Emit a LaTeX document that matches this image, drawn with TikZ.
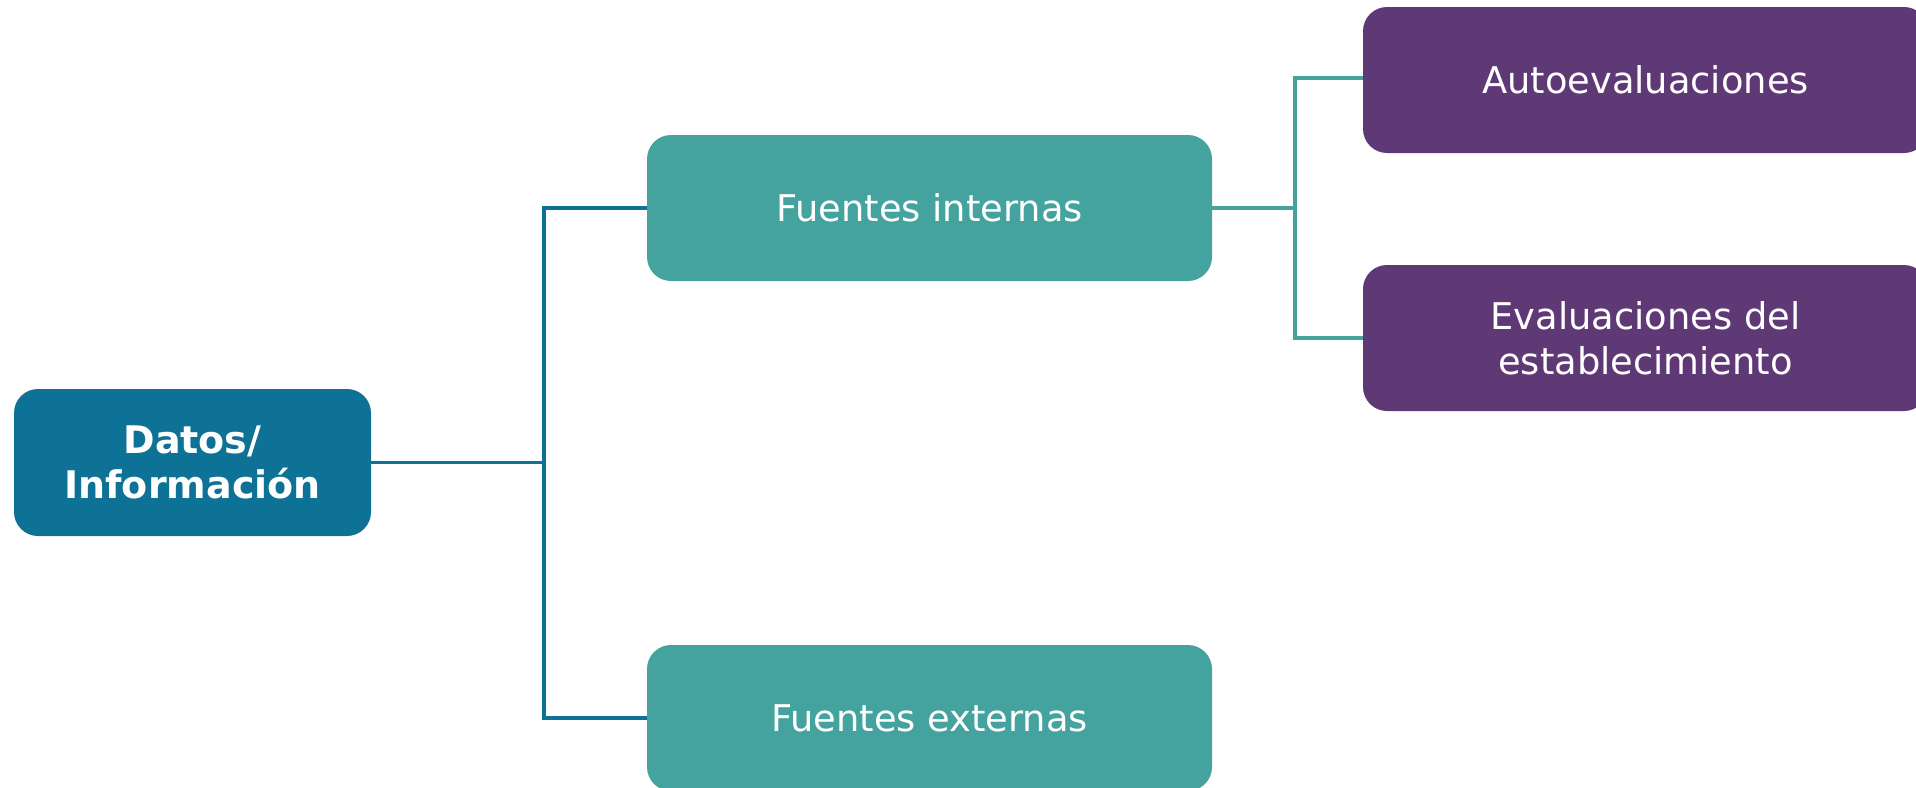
\documentclass[tikz,border=0pt]{standalone}
\usepackage{fontspec}
\setmainfont{DejaVu Sans}
\definecolor{datosblue}{RGB}{14,114,150}
\definecolor{tealc}{RGB}{68,163,158}
\definecolor{purplec}{RGB}{95,57,118}
\begin{document}
\begin{tikzpicture}[x=0.5pt,y=-0.5pt,
  box/.style={rounded corners=12pt, minimum width=282.5pt, minimum height=73pt,
    inner sep=0pt, align=center, text=white, font=\fontsize{18.4}{22.5}\selectfont},
  tealbox/.style={box, fill=tealc},
  purplebox/.style={box, fill=purplec},
  datosbox/.style={box, fill=datosblue, minimum width=178.5pt, minimum height=73.5pt,
    font=\fontsize{19}{22.5}\selectfont\bfseries},
  blueline/.style={draw=datosblue, line width=1.7pt},
  tealline/.style={draw=tealc, line width=1.7pt}]
\useasboundingbox (0,0) rectangle (1916,787);
\node[datosbox] (datos) at (192.5,462.5) {Datos/\\Información};
\node[tealbox] (fi) at (929.5,208) {Fuentes internas};
\node[tealbox] (fe) at (929.5,718) {Fuentes externas};
\node[purplebox] (auto) at (1645.5,80) {Autoevaluaciones};
\node[purplebox] (eval) at (1645.5,338) {Evaluaciones del\\establecimiento};
\coordinate (j1) at (544,463);
\coordinate (j2) at (1295,208);
\draw[blueline] (datos.east) -- (datos.east -| j1);
\draw[blueline] (fi.west) -- (fi.west -| j1) -- (fe.west -| j1) -- (fe.west);
\draw[tealline] (fi.east) -- (j2);
\draw[tealline] ([yshift=1pt]auto.west) -- ([yshift=1pt]auto.west -| j2) -- (eval.west -| j2) -- (eval.west);
\end{tikzpicture}
\end{document}
